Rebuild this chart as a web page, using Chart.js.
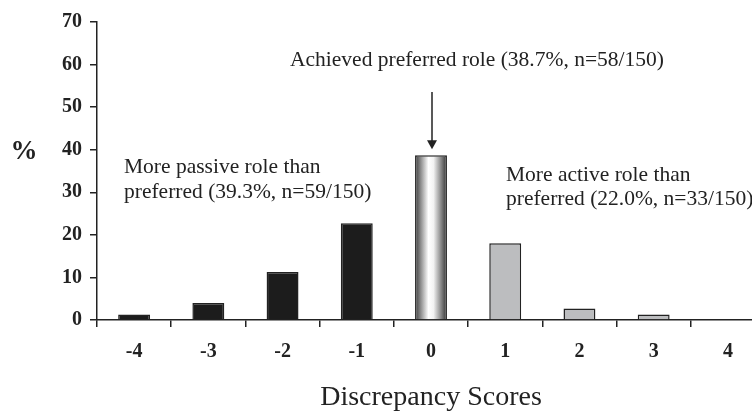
<!DOCTYPE html>
<html>
<head>
<meta charset="utf-8">
<script src="https://cdn.jsdelivr.net/npm/chart.js@4"></script>
<style>
  html, body { margin: 0; padding: 0; background: #fff; overflow: hidden; }
  canvas { display: block; }
</style>
</head>
<body>
<canvas id="roleChart" width="770" height="414" style="width:770px;height:414px"></canvas>
<script>
    // Discrepancy score categories and % of patients (n=150)
    const scores = ['-4', '-3', '-2', '-1', '0', '1', '2', '3', '4'];
    const percents = [1.3, 4.0, 11.3, 22.7, 38.7, 18.0, 2.7, 1.3, 0];
    const yMax = 70;
    const yStep = 10;

    const yLabel = '%';
    const xLabel = 'Discrepancy Scores';
    const achievedNote = 'Achieved preferred role (38.7%, n=58/150)';
    const passiveNote = ['More passive role than', 'preferred (39.3%, n=59/150)'];
    const activeNote = ['More active role than', 'preferred (22.0%, n=33/150)'];

    const serif = "'Liberation Serif', 'Times New Roman', serif";
    const ink = '#222222';
    const barPct = 0.43;

    // Bar fill: dark for passive, shaded cylinder for 0, grey for active
    function barFill(context) {
        const i = context.dataIndex;
        if (i < 4) return '#1c1c1c';
        if (i > 4) return '#bcbdbf';
        const chart = context.chart;
        const xs = chart.scales.x;
        if (!chart.chartArea || !xs) return '#cccccc';
        const cx = xs.getPixelForValue(i);
        const w = (xs.width / scores.length) * barPct;
        const g = chart.ctx.createLinearGradient(cx - w / 2, 0, cx + w / 2, 0);
        g.addColorStop(0, '#3a3a3a');
        g.addColorStop(0.18, '#8e8e8e');
        g.addColorStop(0.42, '#ffffff');
        g.addColorStop(0.58, '#f2f2f2');
        g.addColorStop(0.82, '#858585');
        g.addColorStop(1, '#303030');
        return g;
    }

    // Draw the notes, arrow and "%" label on top of the chart
    const notesPlugin = {
        id: 'notes',
        afterDraw(chart) {
            const ctx = chart.ctx;
            const xs = chart.scales.x;
            const ys = chart.scales.y;
            ctx.save();
            ctx.fillStyle = ink;
            ctx.strokeStyle = ink;
            ctx.textBaseline = 'middle';

            ctx.font = 'bold 27px ' + serif;
            ctx.textAlign = 'center';
            ctx.fillText(yLabel, 24, 152);

            ctx.font = '21.5px ' + serif;
            ctx.textAlign = 'left';
            ctx.fillText(achievedNote, 290, 60);
            ctx.fillText(passiveNote[0], 124, 167);
            ctx.fillText(passiveNote[1], 124, 192);
            ctx.fillText(activeNote[0], 506, 175);
            ctx.fillText(activeNote[1], 506, 199);

            // arrow pointing at the "0" bar
            const ax = xs.getPixelForValue(4) + 1;
            const tip = ys.getPixelForValue(percents[4]) - 6;
            ctx.lineWidth = 1.5;
            ctx.beginPath();
            ctx.moveTo(ax, 92);
            ctx.lineTo(ax, tip - 8);
            ctx.stroke();
            ctx.beginPath();
            ctx.moveTo(ax - 5, tip - 9);
            ctx.lineTo(ax + 5, tip - 9);
            ctx.lineTo(ax, tip);
            ctx.closePath();
            ctx.fill();
            ctx.restore();
        }
    };

    const ctx = document.getElementById('roleChart').getContext('2d');
    const roleChart = new Chart(ctx, {
        type: 'bar',
        data: {
            labels: scores,
            datasets: [{
                data: percents,
                backgroundColor: barFill,
                borderColor: ink,
                borderWidth: 1.5,
                barPercentage: barPct,
                categoryPercentage: 1
            }]
        },
        options: {
            responsive: false,
            animation: false,
            devicePixelRatio: 1,
            layout: { padding: { top: 22, right: 5, bottom: 0, left: 0 } },
            plugins: {
                legend: { display: false },
                tooltip: { enabled: false }
            },
            scales: {
                x: {
                    offset: true,
                    border: { color: ink, width: 1.5 },
                    grid: { offset: true, drawOnChartArea: false, drawTicks: true, tickLength: 7, color: ink, lineWidth: 1.5 },
                    ticks: { color: ink, font: { family: serif, size: 20, weight: 'bold' }, padding: 13 },
                    title: { display: true, text: xLabel, color: ink, font: { family: serif, size: 28 }, padding: { top: 0, bottom: 0 } },
                    afterFit(scale) { scale.height = 94; }
                },
                y: {
                    min: 0,
                    max: yMax,
                    border: { color: ink, width: 1.5 },
                    grid: { drawOnChartArea: false, drawTicks: true, tickLength: 7, color: ink, lineWidth: 1.5 },
                    ticks: { stepSize: yStep, color: ink, font: { family: serif, size: 20, weight: 'bold' }, padding: 8 },
                    afterFit(scale) { scale.width = 97; }
                }
            }
        },
        plugins: [notesPlugin]
    });
</script>
</body>
</html>
